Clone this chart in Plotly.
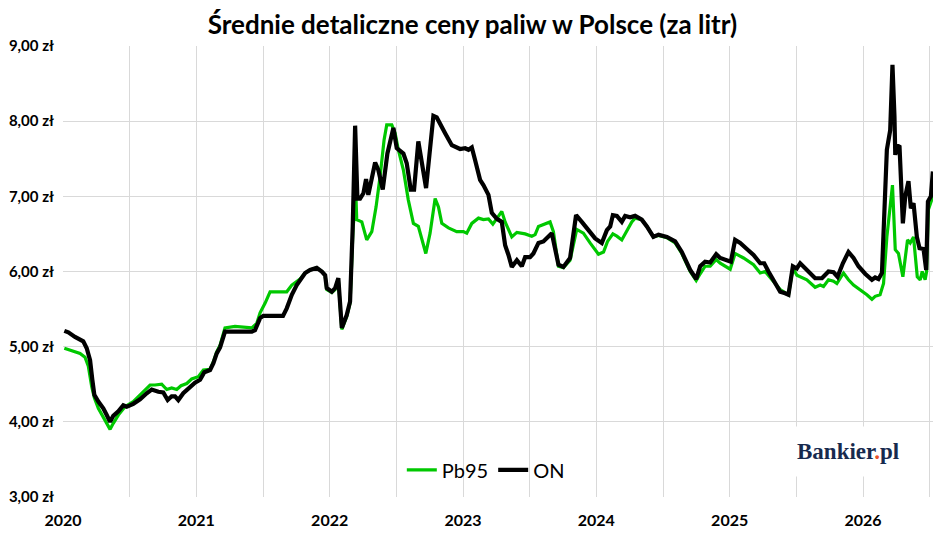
import plotly.graph_objects as go

# decimal year of each reading, and average retail price per litre (zł)
on_t = [
    2020.010, 2020.040, 2020.090, 2020.152, 2020.178, 2020.203, 2020.220, 2020.235,
    2020.265, 2020.302, 2020.328, 2020.353, 2020.377, 2020.415, 2020.452, 2020.478,
    2020.527, 2020.578, 2020.628, 2020.665, 2020.715, 2020.752, 2020.785, 2020.815,
    2020.840, 2020.865, 2020.902, 2020.953, 2020.990, 2021.028, 2021.060, 2021.103,
    2021.128, 2021.153, 2021.178, 2021.215, 2021.290, 2021.416, 2021.440, 2021.478,
    2021.503, 2021.650, 2021.678, 2021.716, 2021.753, 2021.778, 2021.816, 2021.853,
    2021.903, 2021.941, 2021.966, 2021.978, 2022.016, 2022.041, 2022.065, 2022.091,
    2022.128, 2022.153, 2022.173, 2022.191, 2022.208, 2022.228, 2022.253, 2022.273,
    2022.290, 2022.341, 2022.365, 2022.398, 2022.433, 2022.478, 2022.503, 2022.553,
    2022.578, 2022.608, 2022.633, 2022.665, 2022.723, 2022.778, 2022.803, 2022.866,
    2022.916, 2022.978, 2023.016, 2023.041, 2023.066, 2023.091, 2023.128, 2023.153,
    2023.191, 2023.216, 2023.254, 2023.291, 2023.316, 2023.341, 2023.366, 2023.404,
    2023.441, 2023.466, 2023.503, 2023.528, 2023.566, 2023.603, 2023.666, 2023.716,
    2023.753, 2023.803, 2023.848, 2023.891, 2023.941, 2023.991, 2024.041, 2024.079,
    2024.104, 2024.124, 2024.154, 2024.191, 2024.216, 2024.254, 2024.291, 2024.341,
    2024.379, 2024.428, 2024.466, 2024.529, 2024.591, 2024.641, 2024.704, 2024.749,
    2024.779, 2024.816, 2024.854, 2024.899, 2024.929, 2024.966, 2025.009, 2025.041,
    2025.079, 2025.129, 2025.179, 2025.229, 2025.259, 2025.291, 2025.329, 2025.379,
    2025.416, 2025.441, 2025.474, 2025.504, 2025.529, 2025.579, 2025.641, 2025.692,
    2025.741, 2025.779, 2025.809, 2025.849, 2025.891, 2025.929, 2025.966, 2026.016,
    2026.067, 2026.091, 2026.116, 2026.142, 2026.166, 2026.179, 2026.204, 2026.221,
    2026.236, 2026.242, 2026.254, 2026.274, 2026.299, 2026.317, 2026.341, 2026.359,
    2026.379, 2026.404, 2026.424, 2026.454, 2026.474, 2026.487, 2026.509, 2026.524,
]
on_price = [
    5.21, 5.19, 5.13, 5.07, 4.98, 4.82, 4.56, 4.36,
    4.27, 4.18, 4.09, 4.00, 4.08, 4.14, 4.22, 4.20,
    4.24, 4.30, 4.38, 4.43, 4.40, 4.39, 4.29, 4.34,
    4.34, 4.29, 4.38, 4.46, 4.52, 4.56, 4.66, 4.69,
    4.78, 4.91, 4.99, 5.20, 5.20, 5.20, 5.22, 5.38,
    5.41, 5.41, 5.51, 5.69, 5.82, 5.89, 5.98, 6.02,
    6.05, 6.00, 5.95, 5.78, 5.73, 5.78, 5.91, 5.25,
    5.42, 5.60, 6.60, 7.94, 6.97, 6.97, 7.04, 7.23,
    7.02, 7.45, 7.35, 7.09, 7.57, 7.91, 7.64, 7.57,
    7.44, 7.09, 7.09, 7.73, 7.11, 8.07, 8.05, 7.84,
    7.68, 7.63, 7.64, 7.62, 7.65, 7.48, 7.22, 7.15,
    7.02, 6.78, 6.70, 6.66, 6.35, 6.22, 6.06, 6.15,
    6.07, 6.19, 6.19, 6.24, 6.38, 6.40, 6.51, 6.09,
    6.06, 6.18, 6.75, 6.66, 6.55, 6.44, 6.38, 6.55,
    6.60, 6.75, 6.74, 6.66, 6.74, 6.72, 6.74, 6.69,
    6.60, 6.46, 6.49, 6.46, 6.40, 6.26, 6.02, 5.90,
    6.07, 6.13, 6.12, 6.23, 6.18, 6.15, 6.13, 6.42,
    6.38, 6.30, 6.22, 6.11, 6.11, 6.00, 5.89, 5.73,
    5.71, 5.69, 6.07, 6.04, 6.11, 6.02, 5.91, 5.91,
    6.00, 5.99, 5.93, 6.11, 6.26, 6.18, 6.07, 5.97,
    5.89, 5.92, 5.90, 5.98, 7.13, 7.62, 7.88, 8.75,
    8.06, 7.55, 7.68, 7.66, 6.64, 7.00, 7.20, 6.84,
    6.91, 6.46, 6.31, 6.30, 6.02, 6.93, 7.00, 7.33,
]

pb95_t = [
    2020.010, 2020.065, 2020.128, 2020.165, 2020.190, 2020.215, 2020.235, 2020.265,
    2020.302, 2020.335, 2020.353, 2020.377, 2020.415, 2020.465, 2020.527, 2020.590,
    2020.653, 2020.690, 2020.740, 2020.778, 2020.815, 2020.853, 2020.885, 2020.928,
    2020.965, 2021.015, 2021.053, 2021.103, 2021.128, 2021.153, 2021.178, 2021.215,
    2021.290, 2021.416, 2021.453, 2021.478, 2021.516, 2021.553, 2021.678, 2021.716,
    2021.753, 2021.778, 2021.816, 2021.853, 2021.903, 2021.941, 2021.966, 2021.978,
    2022.016, 2022.041, 2022.065, 2022.091, 2022.128, 2022.153, 2022.176, 2022.198,
    2022.203, 2022.241, 2022.278, 2022.316, 2022.348, 2022.378, 2022.408, 2022.428,
    2022.466, 2022.491, 2022.515, 2022.553, 2022.590, 2022.628, 2022.665, 2022.691,
    2022.721, 2022.753, 2022.791, 2022.816, 2022.841, 2022.891, 2022.953, 2023.003,
    2023.028, 2023.066, 2023.083, 2023.116, 2023.153, 2023.191, 2023.224, 2023.254,
    2023.291, 2023.316, 2023.366, 2023.404, 2023.466, 2023.516, 2023.541, 2023.566,
    2023.616, 2023.653, 2023.678, 2023.716, 2023.753, 2023.803, 2023.853, 2023.903,
    2023.953, 2024.016, 2024.054, 2024.084, 2024.124, 2024.154, 2024.191, 2024.229,
    2024.266, 2024.291, 2024.341, 2024.379, 2024.428, 2024.466, 2024.529, 2024.591,
    2024.641, 2024.704, 2024.749, 2024.779, 2024.816, 2024.854, 2024.899, 2024.929,
    2025.004, 2025.041, 2025.104, 2025.179, 2025.229, 2025.266, 2025.316, 2025.379,
    2025.441, 2025.474, 2025.504, 2025.579, 2025.641, 2025.679, 2025.704, 2025.741,
    2025.779, 2025.804, 2025.854, 2025.891, 2025.929, 2025.979, 2026.029, 2026.067,
    2026.091, 2026.128, 2026.154, 2026.179, 2026.221, 2026.242, 2026.266, 2026.299,
    2026.334, 2026.354, 2026.379, 2026.407, 2026.429, 2026.444, 2026.466, 2026.477,
    2026.490, 2026.524,
]
pb95_price = [
    4.98, 4.95, 4.91, 4.86, 4.74, 4.47, 4.32, 4.18,
    4.07, 3.96, 3.90, 3.98, 4.09, 4.20, 4.27, 4.38,
    4.49, 4.49, 4.50, 4.43, 4.45, 4.43, 4.48, 4.51,
    4.57, 4.60, 4.69, 4.70, 4.80, 4.93, 5.02, 5.25,
    5.27, 5.25, 5.31, 5.45, 5.58, 5.73, 5.73, 5.82,
    5.87, 5.90, 5.98, 6.02, 6.05, 6.00, 5.95, 5.76,
    5.72, 5.76, 5.89, 5.23, 5.40, 5.58, 6.60, 6.95,
    6.69, 6.66, 6.42, 6.53, 6.86, 7.26, 7.75, 7.95,
    7.95, 7.84, 7.62, 7.35, 6.95, 6.64, 6.60, 6.42,
    6.24, 6.51, 6.97, 6.86, 6.64, 6.58, 6.53, 6.53,
    6.51, 6.64, 6.66, 6.71, 6.69, 6.70, 6.63, 6.70,
    6.80, 6.66, 6.46, 6.52, 6.50, 6.47, 6.49, 6.60,
    6.63, 6.66, 6.53, 6.07, 6.05, 6.15, 6.56, 6.51,
    6.38, 6.23, 6.26, 6.40, 6.50, 6.47, 6.42, 6.55,
    6.66, 6.71, 6.69, 6.60, 6.46, 6.48, 6.45, 6.38,
    6.24, 6.00, 5.88, 5.97, 6.07, 6.07, 6.16, 6.11,
    6.03, 6.24, 6.18, 6.09, 5.98, 6.00, 5.89, 5.76,
    5.69, 6.05, 5.95, 5.89, 5.79, 5.82, 5.80, 5.89,
    5.87, 5.84, 5.98, 5.89, 5.82, 5.76, 5.69, 5.63,
    5.67, 5.69, 5.84, 6.46, 7.15, 6.29, 6.24, 5.93,
    6.42, 6.38, 6.46, 5.93, 5.89, 6.00, 5.89, 6.00,
    6.82, 7.00,
]

years = [2020, 2021, 2022, 2023, 2024, 2025, 2026]

# gridlines every half year, labels only on whole years
tick_vals = [y + h for y in years for h in (0, 0.5)]
tick_text = [str(y) if h == 0 else "" for y in years for h in (0, 0.5)]

FONT = "Lato"

fig = go.Figure()
fig.add_trace(go.Scatter(
    x=pb95_t, y=pb95_price, name="Pb95", mode="lines",
    line=dict(color="#00c800", width=3.2),
))
fig.add_trace(go.Scatter(
    x=on_t, y=on_price, name="ON", mode="lines",
    line=dict(color="#000000", width=4.2),
))

# the page body adds an 8px offset, so the figure is 8px short on each axis
fig.update_layout(
    width=940,
    height=534,
    margin=dict(l=55, r=15, t=38, b=45),
    paper_bgcolor="white",
    plot_bgcolor="white",
    separators=", ",
    font=dict(family=FONT, color="#000000"),
    title=dict(
        text="<b>Średnie detaliczne ceny paliw w Polsce (za litr)</b>",
        x=0.494, xanchor="center", y=0.968, yanchor="middle",
        font=dict(family=FONT, size=26, color="#000000"),
    ),
    legend=dict(
        orientation="h",
        x=0.486, xanchor="center",
        y=0.06, yanchor="middle",
        bgcolor="rgba(0,0,0,0)",
        font=dict(family=FONT, size=20, color="#000000"),
    ),
    showlegend=True,
)

fig.update_xaxes(
    range=[2020, 2026.525],
    tickvals=tick_vals,
    ticktext=tick_text,
    showgrid=True, gridcolor="#d9d9d9", gridwidth=1,
    zeroline=False, showline=False, ticks="",
    ticklabelstandoff=12,
    automargin=False,
    tickfont=dict(family=FONT, size=16, color="#000000", weight="bold"),
)
fig.update_yaxes(
    range=[3, 9],
    dtick=1,
    tickformat=".2f",
    ticksuffix=" zł",
    showgrid=True, gridcolor="#d9d9d9", gridwidth=1,
    zeroline=False, showline=False, ticks="",
    ticklabelstandoff=8,
    automargin=False,
    tickfont=dict(family=FONT, size=15, color="#000000", weight="bold"),
)

fig.add_annotation(
    text="<b>Bankier<span style='color:#e8542b'>.</span>pl</b>",
    xref="paper", yref="paper",
    x=0.902, y=0.1, xanchor="center", yanchor="middle",
    showarrow=False,
    bgcolor="white",
    borderpad=12,
    font=dict(family="Liberation Serif", size=23, color="#172a4e"),
)

fig.write_html("out.html")
